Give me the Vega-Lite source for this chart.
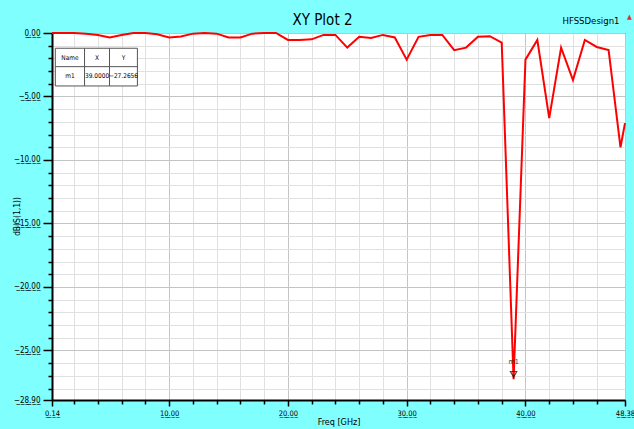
{
  "$schema": "https://vega.github.io/schema/vega-lite/v6.json",
  "width": 573,
  "height": 367,
  "autosize": {"type": "none"},
  "padding": {"left": 52, "top": 33, "right": 9, "bottom": 29},
  "background": "#80ffff",
  "title": {
    "text": "XY Plot 2",
    "fontSize": 15,
    "fontWeight": "normal",
    "color": "#000000",
    "anchor": "middle",
    "dx": -16,
    "baseline": "alphabetic",
    "offset": -28
  },
  "config": {
    "font": "'Liberation Sans Narrow', 'Arial Narrow', 'DejaVu Sans Condensed', sans-serif",
    "view": {"fill": "#ffffff", "stroke": "#222222", "strokeWidth": 1}
  },
  "datasets": {
    "s11": [
      {"freq": 0.14, "db": 0},
      {"freq": 1, "db": 0},
      {"freq": 2, "db": 0},
      {"freq": 3, "db": -0.05},
      {"freq": 4, "db": -0.15},
      {"freq": 5, "db": -0.35},
      {"freq": 6, "db": -0.15},
      {"freq": 7, "db": 0},
      {"freq": 8, "db": 0},
      {"freq": 9, "db": -0.1},
      {"freq": 10, "db": -0.35},
      {"freq": 11, "db": -0.28},
      {"freq": 12, "db": -0.05},
      {"freq": 13, "db": 0},
      {"freq": 14, "db": -0.05},
      {"freq": 15, "db": -0.35},
      {"freq": 16, "db": -0.35},
      {"freq": 17, "db": -0.05},
      {"freq": 18, "db": 0},
      {"freq": 19, "db": 0},
      {"freq": 20, "db": -0.55},
      {"freq": 21, "db": -0.55},
      {"freq": 22, "db": -0.5},
      {"freq": 23, "db": -0.15},
      {"freq": 24, "db": -0.15},
      {"freq": 25, "db": -1.15},
      {"freq": 26, "db": -0.3},
      {"freq": 27, "db": -0.4},
      {"freq": 28, "db": -0.15},
      {"freq": 29, "db": -0.35},
      {"freq": 30, "db": -2.1},
      {"freq": 31, "db": -0.3},
      {"freq": 32, "db": -0.15},
      {"freq": 33, "db": -0.15},
      {"freq": 34, "db": -1.35},
      {"freq": 35, "db": -1.15},
      {"freq": 36, "db": -0.3},
      {"freq": 37, "db": -0.25},
      {"freq": 38, "db": -0.75},
      {"freq": 39, "db": -27.2656},
      {"freq": 40, "db": -2.1},
      {"freq": 41, "db": -0.55},
      {"freq": 42, "db": -6.7},
      {"freq": 43, "db": -1.15},
      {"freq": 44, "db": -3.7},
      {"freq": 45, "db": -0.55},
      {"freq": 46, "db": -1.1},
      {"freq": 47, "db": -1.35},
      {"freq": 48, "db": -9.0},
      {"freq": 48.38, "db": -7.1}
    ],
    "marker": [
      {"name": "m1", "freq": 39, "db": -27.2656}
    ]
  },
  "layer": [
    {
      "data": {"name": "s11"},
      "mark": {"type": "line", "color": "#ff0000", "strokeWidth": 2},
      "encoding": {
        "x": {
          "field": "freq",
          "type": "quantitative",
          "scale": {"domain": [0.14, 48.38], "nice": false, "zero": false},
          "axis": {
            "orient": "bottom",
            "values": [0.14, 2, 4, 6, 8, 10, 12, 14, 16, 18, 20, 22, 24, 26, 28, 30, 32, 34, 36, 38, 40, 42, 44, 46, 48.38],
            "labelExpr": "indexof([0.14, 10, 20, 30, 40, 48.38], datum.value) >= 0 ? replace(format(datum.value, '.2f'), /(.)/g, '$1\u0332') : ''",
            "labelFontSize": 7.5,
            "labelColor": "#000000",
            "labelPadding": 3,
            "labelOverlap": false,
            "labelFlush": false,
            "labelBound": false,
            "tickSize": {"condition": {"test": "indexof([0.14, 10, 20, 30, 40, 48.38], datum.value) >= 0", "value": 6}, "value": 4},
            "tickColor": "#000000",
            "tickWidth": 1.5,
            "domainColor": "#000000",
            "domainWidth": 2,
            "grid": true,
            "gridColor": {"condition": {"test": "indexof([0.14, 10, 20, 30, 40, 48.38], datum.value) >= 0", "value": "#c4c4c4"}, "value": "#e0e0e0"},
            "gridWidth": 1,
            "title": "Freq [GHz]",
            "titleFontSize": 9,
            "titleFontWeight": "normal",
            "titleColor": "#000000",
            "titlePadding": 1
          }
        },
        "y": {
          "field": "db",
          "type": "quantitative",
          "scale": {"domain": [-28.9, 0], "nice": false, "zero": false},
          "axis": {
            "orient": "left",
            "values": [0, -1, -2, -3, -4, -5, -6, -7, -8, -9, -10, -11, -12, -13, -14, -15, -16, -17, -18, -19, -20, -21, -22, -23, -24, -25, -26, -27, -28, -28.9],
            "labelExpr": "indexof([0, -5, -10, -15, -20, -25, -28.9], datum.value) >= 0 ? replace(format(datum.value, '.2f'), /(.)/g, '$1\u0332') : ''",
            "labelFontSize": 8,
            "labelColor": "#000000",
            "labelPadding": 3,
            "labelOverlap": false,
            "labelFlush": false,
            "tickSize": {"condition": {"test": "indexof([0, -5, -10, -15, -20, -25, -28.9], datum.value) >= 0", "value": 9}, "value": 4},
            "tickColor": "#000000",
            "tickWidth": 1.5,
            "domainColor": "#000000",
            "domainWidth": 2,
            "grid": true,
            "gridColor": {"condition": {"test": "indexof([0, -5, -10, -15, -20, -25, -28.9], datum.value) >= 0", "value": "#c4c4c4"}, "value": "#e0e0e0"},
            "gridWidth": 1,
            "title": "dB(S(1,1))",
            "titleFontSize": 8.5,
            "titleFontWeight": "normal",
            "titleColor": "#000000",
            "titleX": -36,
            "titleY": 183,
            "titleAngle": 270,
            "titleAlign": "center",
            "titleBaseline": "middle"
          }
        }
      }
    },
    {
      "data": {"name": "marker"},
      "mark": {"type": "point", "shape": "triangle-down", "filled": false, "stroke": "#000000", "strokeWidth": 1.2, "size": 40, "yOffset": -5},
      "encoding": {
        "x": {
          "field": "freq",
          "type": "quantitative",
          "axis": {
            "orient": "top",
            "title": "HFSSDesign1",
            "labels": false,
            "ticks": false,
            "domain": false,
            "grid": false,
            "titleFontSize": 9.5,
            "titleFontWeight": "normal",
            "titleColor": "#000000",
            "titleAlign": "right",
            "titleAnchor": "end",
            "titleBaseline": "alphabetic",
            "titleX": 567,
            "titleY": -10
          }
        },
        "y": {
          "field": "db",
          "type": "quantitative",
          "axis": {
            "orient": "right",
            "title": "▲",
            "labels": false,
            "ticks": false,
            "domain": false,
            "grid": false,
            "titleFontSize": 7,
            "titleColor": "#e03030",
            "titleAngle": 0,
            "titleAlign": "center",
            "titleBaseline": "alphabetic",
            "titleX": 4,
            "titleY": -15
          }
        }
      }
    },
    {
      "data": {"name": "marker"},
      "mark": {"type": "text", "fontSize": 7, "dy": -17, "color": "#333333"},
      "encoding": {
        "x": {"field": "freq", "type": "quantitative", "axis": null},
        "y": {"field": "db", "type": "quantitative", "axis": null},
        "text": {"field": "name"}
      }
    },
    {
      "data": {"name": "marker"},
      "mark": {"type": "rect", "fill": "#b4b4b4", "xOffset": 3, "yOffset": 3},
      "encoding": {
        "x": {"datum": 0.42, "axis": null},
        "x2": {"datum": 7.33},
        "y": {"datum": -1.2, "axis": null},
        "y2": {"datum": -4.17}
      }
    },
    {
      "data": {"name": "marker"},
      "mark": {"type": "rect", "fill": "#ffffff", "stroke": "#555555", "strokeWidth": 1},
      "encoding": {
        "x": {"datum": 0.42, "axis": null},
        "x2": {"datum": 7.33},
        "y": {"datum": -1.2, "axis": null},
        "y2": {"datum": -4.17}
      }
    },
    {
      "data": {"name": "marker"},
      "mark": {"type": "rule", "color": "#555555", "strokeWidth": 1},
      "encoding": {
        "x": {"datum": 0.42, "axis": null},
        "x2": {"datum": 7.33},
        "y": {"datum": -2.65, "axis": null}
      }
    },
    {
      "data": {"name": "marker"},
      "mark": {"type": "rule", "color": "#555555", "strokeWidth": 1},
      "encoding": {
        "x": {"datum": 2.88, "axis": null},
        "y": {"datum": -1.2, "axis": null},
        "y2": {"datum": -4.17}
      }
    },
    {
      "data": {"name": "marker"},
      "mark": {"type": "rule", "color": "#555555", "strokeWidth": 1},
      "encoding": {
        "x": {"datum": 4.98, "axis": null},
        "y": {"datum": -1.2, "axis": null},
        "y2": {"datum": -4.17}
      }
    },
    {
      "data": {"name": "marker"},
      "mark": {"type": "text", "fontSize": 6.5, "color": "#000000", "baseline": "middle"},
      "encoding": {
        "x": {"datum": 1.65, "axis": null},
        "y": {"datum": -1.93, "axis": null},
        "text": {"value": "Name"}
      }
    },
    {
      "data": {"name": "marker"},
      "mark": {"type": "text", "fontSize": 6.5, "color": "#000000", "baseline": "middle"},
      "encoding": {
        "x": {"datum": 3.93, "axis": null},
        "y": {"datum": -1.93, "axis": null},
        "text": {"value": "X"}
      }
    },
    {
      "data": {"name": "marker"},
      "mark": {"type": "text", "fontSize": 6.5, "color": "#000000", "baseline": "middle"},
      "encoding": {
        "x": {"datum": 6.16, "axis": null},
        "y": {"datum": -1.93, "axis": null},
        "text": {"value": "Y"}
      }
    },
    {
      "data": {"name": "marker"},
      "mark": {"type": "text", "fontSize": 6.5, "color": "#000000", "baseline": "middle"},
      "encoding": {
        "x": {"datum": 1.65, "axis": null},
        "y": {"datum": -3.41, "axis": null},
        "text": {"field": "name"}
      }
    },
    {
      "data": {"name": "marker"},
      "mark": {"type": "text", "fontSize": 6.5, "color": "#000000", "baseline": "middle"},
      "encoding": {
        "x": {"datum": 3.93, "axis": null},
        "y": {"datum": -3.41, "axis": null},
        "text": {"field": "freq", "format": ".4f"}
      }
    },
    {
      "data": {"name": "marker"},
      "mark": {"type": "text", "fontSize": 6.5, "color": "#000000", "baseline": "middle"},
      "encoding": {
        "x": {"datum": 6.16, "axis": null},
        "y": {"datum": -3.41, "axis": null},
        "text": {"field": "db", "format": ".4f"}
      }
    }
  ],
  "resolve": {"axis": {"x": "independent", "y": "independent"}}
}
